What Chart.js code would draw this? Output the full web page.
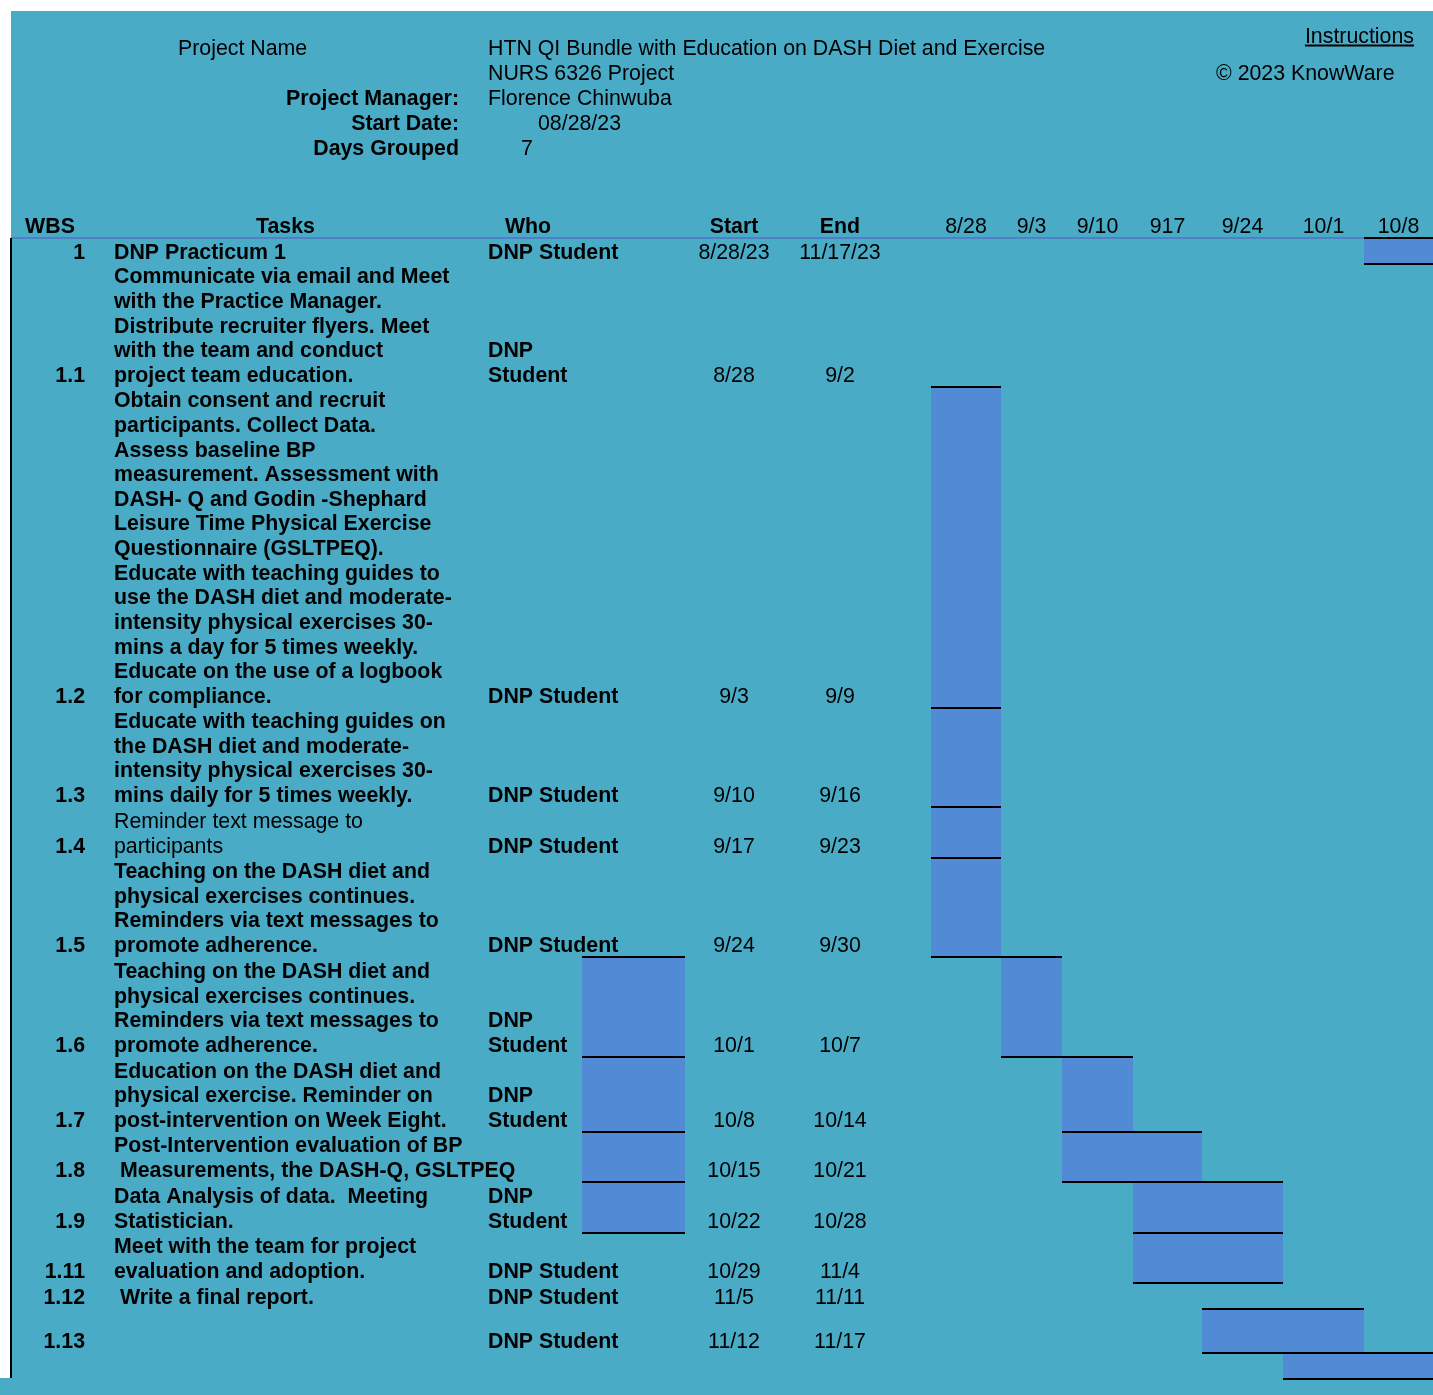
<!DOCTYPE html>
<html>
<head>
<meta charset="utf-8">
<title>HTN QI Bundle – Gantt</title>
<script src="https://cdn.jsdelivr.net/npm/chart.js@4.4.1/dist/chart.umd.min.js"></script>
<style>
  html, body { margin: 0; padding: 0; background: #ffffff; }
  canvas { display: block; }
</style>
</head>
<body>
<canvas id="gantt" width="1433" height="1395"></canvas>
<script>
// ---------- project header ----------
const projectNameLines = ['HTN QI Bundle with Education on DASH Diet and Exercise', 'NURS 6326 Project'];
const projectManager = 'Florence Chinwuba';
const projectStart = '08/28/23';
const daysGrouped = '7';

// ---------- task table ----------
const weekLabels = ['8/28', '9/3', '9/10', '917', '9/24', '10/1', '10/8'];
const wbs = ['1', '1.1', '1.2', '1.3', '1.4', '1.5', '1.6', '1.7', '1.8', '1.9', '1.11', '1.12', '1.13', ''];
const tasks = [
  ['DNP Practicum 1'],
  ['Communicate via email and Meet', 'with the Practice Manager.', 'Distribute recruiter flyers. Meet', 'with the team and conduct', 'project team education.'],
  ['Obtain consent and recruit', 'participants. Collect Data.', 'Assess baseline BP', 'measurement. Assessment with',
   'DASH- Q and Godin -Shephard', 'Leisure Time Physical Exercise', 'Questionnaire (GSLTPEQ).',
   'Educate with teaching guides to', 'use the DASH diet and moderate-', 'intensity physical exercises 30-',
   'mins a day for 5 times weekly.', 'Educate on the use of a logbook', 'for compliance.'],
  ['Educate with teaching guides on', 'the DASH diet and moderate-', 'intensity physical exercises 30-', 'mins daily for 5 times weekly.'],
  ['Reminder text message to', 'participants'],
  ['Teaching on the DASH diet and', 'physical exercises continues.', 'Reminders via text messages to', 'promote adherence.'],
  ['Teaching on the DASH diet and', 'physical exercises continues.', 'Reminders via text messages to', 'promote adherence.'],
  ['Education on the DASH diet and', 'physical exercise. Reminder on', 'post-intervention on Week Eight.'],
  ['Post-Intervention evaluation of BP', ' Measurements, the DASH-Q, GSLTPEQ'],
  ['Data Analysis of data.  Meeting', 'Statistician.'],
  ['Meet with the team for project', 'evaluation and adoption.'],
  [' Write a final report.'],
  [],
  []
];
const plainTaskRows = ['1.4'];
const who = [
  ['DNP Student'], ['DNP', 'Student'], ['DNP Student'], ['DNP Student'], ['DNP Student'], ['DNP Student'],
  ['DNP', 'Student'], ['DNP', 'Student'], [], ['DNP', 'Student'], ['DNP Student'], ['DNP Student'], ['DNP Student'], []
];
const startDates = ['8/28/23', '8/28', '9/3', '9/10', '9/17', '9/24', '10/1', '10/8', '10/15', '10/22', '10/29', '11/5', '11/12', ''];
const endDates = ['11/17/23', '9/2', '9/9', '9/16', '9/23', '9/30', '10/7', '10/14', '10/21', '10/28', '11/4', '11/11', '11/17', ''];

// ---------- filled cells (row index, first and last sheet column) ----------
const fillRow  = [0,   2,   3,   4,   5,   6,   6,   7,   7,   8,   8,   9,   9,   10,  12,  13];
const fillFrom = ['N', 'H', 'H', 'H', 'H', 'D', 'I', 'D', 'J', 'D', 'J', 'D', 'K', 'K', 'L', 'M'];
const fillTo   = ['N', 'H', 'H', 'H', 'H', 'D', 'I', 'D', 'J', 'D', 'K', 'D', 'L', 'L', 'M', 'N'];

// ---------- sheet geometry and styling ----------
const COLUMN_LETTERS = 'ABCDEFGHIJKLMN';
const columnWidths = [78, 393, 100, 103, 98, 114, 34, 70, 61, 71, 69, 81, 81, 69];
const rowHeights = [26, 123, 321, 99, 51, 99, 100, 75, 50, 51, 50, 26, 44, 26];
const PAD = { left: 11, right: 0, top: 238, bottom: 16 };
const CANVAS_W = 1433, CANVAS_H = 1395;
const SHEET_FILL = '#4AABC6';
const BAR_FILL = '#528BD5';
const HEADER_RULE = '#4F7FC4';
const FONT_FAMILY = '"Liberation Sans", Arial, Helvetica, sans-serif';
const FONT_SIZE = 21.33;
const LINE = 24.65;

const sum = a => a.reduce((s, v) => s + v, 0);
const colIndex = letter => COLUMN_LETTERS.indexOf(letter);

// Linear scale whose units are sheet columns / rows of uneven size.
class SheetScale extends Chart.LinearScale {
  _sizes() { return this.axis === 'x' ? columnWidths : rowHeights; }
  getPixelForValue(value) {
    const sizes = this._sizes();
    const total = sum(sizes);
    const n = sizes.length;
    const i = Math.max(0, Math.min(n - 1, Math.floor(value)));
    let acc = 0;
    for (let k = 0; k < i; k++) acc += sizes[k];
    acc += (value - i) * sizes[i];
    const frac = acc / total;
    return this.isHorizontal() ? this.left + frac * this.width : this.top + frac * this.height;
  }
  getValueForPixel(pixel) {
    const sizes = this._sizes();
    const total = sum(sizes);
    let pos = (this.isHorizontal() ? (pixel - this.left) / this.width : (pixel - this.top) / this.height) * total;
    for (let k = 0; k < sizes.length; k++) {
      if (pos <= sizes[k] || k === sizes.length - 1) return k + pos / sizes[k];
      pos -= sizes[k];
    }
    return sizes.length;
  }
}
SheetScale.id = 'sheet';
SheetScale.defaults = Chart.LinearScale.defaults;
Chart.register(SheetScale);

// one dataset per sheet row, so each bar is as tall as its row
const plotHeight = CANVAS_H - PAD.top - PAD.bottom;
const rowsWithFill = [...new Set(fillRow)];
const datasets = rowsWithFill.map(r => ({
  label: wbs[r] || 'row ' + r,
  data: fillRow
    .map((row, i) => row === r ? { x: [colIndex(fillFrom[i]), colIndex(fillTo[i]) + 1], y: r + 0.5 } : null)
    .filter(Boolean),
  backgroundColor: BAR_FILL,
  borderColor: '#000000',
  borderWidth: { top: 2, bottom: 2, left: 0, right: 0 },
  borderSkipped: false,
  barThickness: rowHeights[r] * plotHeight / sum(rowHeights) + 2,
  grouped: false,
  inflateAmount: 0,
  clip: false
}));

function setFont(ctx, bold) {
  ctx.font = (bold ? 'bold ' : '') + FONT_SIZE + 'px ' + FONT_FAMILY;
}
function put(ctx, text, x, y, align, bold) {
  setFont(ctx, bold);
  ctx.textAlign = align;
  ctx.fillText(text, x, y);
}

const sheetBackground = {
  id: 'sheetBackground',
  beforeDraw(chart) {
    const { ctx, chartArea } = chart;
    ctx.save();
    ctx.fillStyle = '#ffffff';
    ctx.fillRect(0, 0, CANVAS_W, CANVAS_H);
    ctx.fillStyle = SHEET_FILL;
    ctx.fillRect(11, 11, CANVAS_W - 11, CANVAS_H - 11);
    ctx.fillRect(0, chartArea.bottom - 1, CANVAS_W, CANVAS_H - chartArea.bottom + 1);
    // rule under the column headings
    ctx.fillStyle = HEADER_RULE;
    ctx.fillRect(chartArea.left, chartArea.top - 1, CANVAS_W - chartArea.left, 2);
    // left edge of the table
    ctx.fillStyle = '#000000';
    ctx.fillRect(chartArea.left - 1, chartArea.top, 2, chartArea.bottom - 1 - chartArea.top);
    ctx.restore();
  }
};

const sheetText = {
  id: 'sheetText',
  afterDatasetsDraw(chart) {
    const { ctx, chartArea } = chart;
    const x = chart.scales.x, y = chart.scales.y;
    const colCenter = c => x.getPixelForValue(c + 0.5);
    ctx.save();
    ctx.fillStyle = '#000000';
    ctx.textBaseline = 'alphabetic';

    // project block
    put(ctx, 'Project Name', 178, 55, 'left', false);
    projectNameLines.forEach((t, i) => put(ctx, t, 488, 55 + i * 25, 'left', false));
    put(ctx, 'Project Manager:', 459, 105, 'right', true);
    put(ctx, projectManager, 488, 105, 'left', false);
    put(ctx, 'Start Date:', 459, 130, 'right', true);
    put(ctx, projectStart, 538, 130, 'left', false);
    put(ctx, 'Days Grouped', 459, 154.5, 'right', true);
    put(ctx, daysGrouped, 527, 154.5, 'center', false);

    put(ctx, 'Instructions', 1414, 43, 'right', false);
    setFont(ctx, false);
    const iw = ctx.measureText('Instructions').width;
    ctx.fillRect(1414 - iw, 44.5, iw, 2);
    put(ctx, '\u00A9 2023 KnowWare', 1216, 80, 'left', false);

    // column headings
    const hy = chartArea.top - 5;
    put(ctx, 'WBS', 50, hy, 'center', true);
    put(ctx, 'Tasks', colCenter(1), hy, 'center', true);
    put(ctx, 'Who', 528, hy, 'center', true);
    put(ctx, 'Start', colCenter(4), hy, 'center', true);
    put(ctx, 'End', colCenter(5), hy, 'center', true);
    weekLabels.forEach((w, i) => put(ctx, w, colCenter(7 + i), hy, 'center', false));

    // rows, bottom aligned like the sheet cells
    wbs.forEach((id, r) => {
      const base = y.getPixelForValue(r + 1) - 5;
      const lineY = (lines, j) => base - (lines.length - 1 - j) * LINE;
      if (id) put(ctx, id, 85, base, 'right', true);
      const bold = !plainTaskRows.includes(id);
      tasks[r].forEach((t, j) => put(ctx, t, 114, lineY(tasks[r], j), 'left', bold));
      who[r].forEach((t, j) => put(ctx, t, 488, lineY(who[r], j), 'left', true));
      if (startDates[r]) put(ctx, startDates[r], colCenter(4), base, 'center', false);
      if (endDates[r]) put(ctx, endDates[r], colCenter(5), base, 'center', false);
    });
    ctx.restore();
  }
};

new Chart(document.getElementById('gantt'), {
  type: 'bar',
  data: { datasets },
  options: {
    indexAxis: 'y',
    responsive: false,
    animation: false,
    events: [],
    layout: { padding: PAD },
    scales: {
      x: { type: 'sheet', min: 0, max: columnWidths.length, display: false },
      y: { type: 'sheet', min: 0, max: rowHeights.length, display: false, offset: false }
    },
    plugins: { legend: { display: false }, tooltip: { enabled: false } }
  },
  plugins: [sheetBackground, sheetText]
});
</script>
</body>
</html>
